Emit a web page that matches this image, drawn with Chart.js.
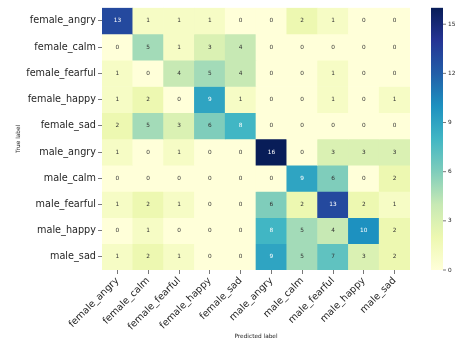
<!DOCTYPE html>
<html>
<head>
<meta charset="utf-8">
<script src="https://cdn.jsdelivr.net/npm/chart.js@4.4.1/dist/chart.umd.min.js"></script>
<style>
  html, body { margin: 0; padding: 0; background: #fff; }
  #area { width: 455px; height: 343px; }
</style>
</head>
<body>
<div id="area"><canvas id="matriz"></canvas></div>
<script>
// Rótulos das classes (linhas = verdadeiro, colunas = previsto)
const rotulosVerdadeiros = ['female_angry', 'female_calm', 'female_fearful', 'female_happy', 'female_sad',
                            'male_angry', 'male_calm', 'male_fearful', 'male_happy', 'male_sad'];
const rotulosPrevistos = ['female_angry', 'female_calm', 'female_fearful', 'female_happy', 'female_sad',
                          'male_angry', 'male_calm', 'male_fearful', 'male_happy', 'male_sad'];

// Contagens por linha da matriz de confusão
const femaleAngry   = [13, 1, 1, 1, 0, 0, 2, 1, 0, 0];
const femaleCalm    = [0, 5, 1, 3, 4, 0, 0, 0, 0, 0];
const femaleFearful = [1, 0, 4, 5, 4, 0, 0, 1, 0, 0];
const femaleHappy   = [1, 2, 0, 9, 1, 0, 0, 1, 0, 1];
const femaleSad     = [2, 5, 3, 6, 8, 0, 0, 0, 0, 0];
const maleAngry     = [1, 0, 1, 0, 0, 16, 0, 3, 3, 3];
const maleCalm      = [0, 0, 0, 0, 0, 0, 9, 6, 0, 2];
const maleFearful   = [1, 2, 1, 0, 0, 6, 2, 13, 2, 1];
const maleHappy     = [0, 1, 0, 0, 0, 8, 5, 4, 10, 2];
const maleSad       = [1, 2, 1, 0, 0, 9, 5, 7, 3, 2];

const matriz = [femaleAngry, femaleCalm, femaleFearful, femaleHappy, femaleSad,
                maleAngry, maleCalm, maleFearful, maleHappy, maleSad];

// Escala da barra de cores
const valorMin = 0;
const valorMax = 16;
const ticksBarraCores = [0, 3, 6, 9, 12, 15];

// Mapa de cores YlGnBu
const ylgnbu = [
    [255, 255, 217], [237, 248, 177], [199, 233, 180], [127, 205, 187], [65, 182, 196],
    [29, 145, 192], [34, 94, 168], [37, 52, 148], [8, 29, 88]
];

function rgbDe(v) {
    const t = Math.min(Math.max((v - valorMin) / (valorMax - valorMin), 0), 1) * (ylgnbu.length - 1);
    const i = Math.min(Math.floor(t), ylgnbu.length - 2);
    const f = t - i;
    const a = ylgnbu[i], b = ylgnbu[i + 1];
    return a.map((c, k) => Math.round(c + (b[k] - c) * f));
}

function corDe(v) {
    const c = rgbDe(v);
    return `rgb(${c[0]}, ${c[1]}, ${c[2]})`;
}

// Texto escuro em células claras, branco em células escuras
function corTexto(v) {
    const lin = rgbDe(v).map(c => {
        c /= 255;
        return c <= 0.03928 ? c / 12.92 : Math.pow((c + 0.055) / 1.055, 2.4);
    });
    const lum = 0.2126 * lin[0] + 0.7152 * lin[1] + 0.0722 * lin[2];
    return lum > 0.408 ? '#333333' : '#ffffff';
}

const fonte = 'DejaVu Sans';

// Valores escritos no centro de cada célula
const rotulosCelulas = {
    id: 'rotulos_celulas',
    afterDatasetsDraw(chart) {
        const ctx = chart.ctx;
        ctx.save();
        ctx.font = `5.8px "${fonte}"`;
        ctx.textAlign = 'center';
        ctx.textBaseline = 'middle';
        chart.data.datasets.forEach((ds, i) => {
            chart.getDatasetMeta(i).data.forEach((barra, j) => {
                const v = matriz[i][j];
                ctx.fillStyle = corTexto(v);
                ctx.fillText(String(v), barra.x, (barra.y + barra.base) / 2);
            });
        });
        ctx.restore();
    }
};

// Barra de cores à direita, posicionada pela escala 'cb'
const barraCores = {
    id: 'barra_cores',
    afterDraw(chart) {
        const ctx = chart.ctx;
        const cb = chart.scales.cb;
        const x0 = chart.chartArea.right + 21;
        const largura = 12;
        const yTopo = cb.getPixelForValue(valorMax);
        const yBase = cb.getPixelForValue(valorMin);
        const grad = ctx.createLinearGradient(0, yBase, 0, yTopo);
        ylgnbu.forEach((c, k) => grad.addColorStop(k / (ylgnbu.length - 1), `rgb(${c[0]}, ${c[1]}, ${c[2]})`));
        ctx.save();
        ctx.fillStyle = grad;
        ctx.fillRect(x0, yTopo, largura, yBase - yTopo);
        ctx.strokeStyle = '#555';
        ctx.lineWidth = 0.8;
        ctx.fillStyle = '#262626';
        ctx.font = `5.8px "${fonte}"`;
        ctx.textAlign = 'left';
        ctx.textBaseline = 'middle';
        ticksBarraCores.forEach(t => {
            const y = cb.getPixelForValue(t);
            ctx.beginPath();
            ctx.moveTo(x0 + largura, y);
            ctx.lineTo(x0 + largura + 3, y);
            ctx.stroke();
            ctx.fillText(String(t), x0 + largura + 5, y);
        });
        ctx.restore();
    }
};

const ctx = document.getElementById('matriz').getContext('2d');

new Chart(ctx, {
    type: 'bar',
    data: {
        labels: rotulosPrevistos,
        // cada linha verdadeira é uma faixa de altura 1 empilhada
        datasets: matriz.map((linha, i) => ({
            label: rotulosVerdadeiros[i],
            data: linha.map(() => 1),
            backgroundColor: linha.map(corDe),
            borderWidth: 0,
            barPercentage: 1,
            categoryPercentage: 1
        }))
    },
    options: {
        responsive: true,
        maintainAspectRatio: false,
        animation: false,
        layout: { padding: { top: 7, right: 45, left: 0, bottom: 0 } },
        plugins: {
            legend: { display: false },
            tooltip: { enabled: false }
        },
        scales: {
            x: {
                stacked: true,
                afterFit: s => { s.height = 73; },
                grid: { drawOnChartArea: false, offset: false, tickLength: 4, tickColor: '#555', tickWidth: 0.8 },
                border: { display: false },
                ticks: {
                    color: '#262626',
                    font: { family: fonte, size: 9.7 },
                    minRotation: 45,
                    maxRotation: 45,
                    padding: 1,
                    autoSkip: false
                },
                title: {
                    display: true,
                    text: 'Predicted label',
                    color: '#262626',
                    font: { family: fonte, size: 5.8 },
                    padding: { top: 0, bottom: 3 }
                }
            },
            y: {
                stacked: true,
                min: 0,
                max: rotulosVerdadeiros.length,
                reverse: true,
                afterFit: s => { s.width = 102; },
                afterBuildTicks: s => {
                    s.ticks = rotulosVerdadeiros.map((_, i) => ({ value: i + 0.5 }));
                },
                grid: { drawOnChartArea: false, tickLength: 4, tickColor: '#555', tickWidth: 0.8 },
                border: { display: false },
                ticks: {
                    color: '#262626',
                    font: { family: fonte, size: 9.7 },
                    padding: 2,
                    callback: (v, idx) => rotulosVerdadeiros[idx]
                },
                title: {
                    display: true,
                    text: 'True label',
                    color: '#262626',
                    font: { family: fonte, size: 5.8 },
                    padding: { top: 15, bottom: 0 }
                }
            },
            cb: {
                type: 'linear',
                position: 'right',
                display: false,
                min: valorMin,
                max: valorMax
            }
        }
    },
    plugins: [rotulosCelulas, barraCores]
});
</script>
</body>
</html>
